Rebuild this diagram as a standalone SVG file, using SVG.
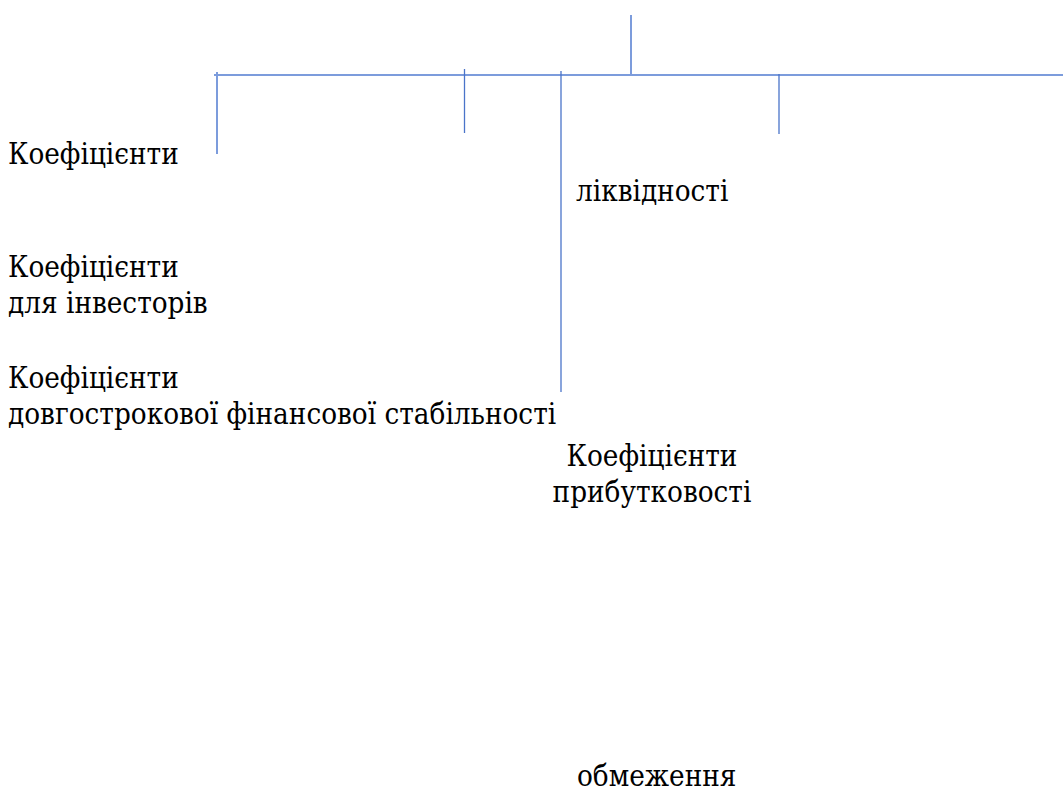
<svg xmlns="http://www.w3.org/2000/svg" width="1063" height="797" viewBox="0 0 1063 797">
<style>
.thick{stroke:#7C9CDC;stroke-width:2;fill:none}
.thin{stroke:#4A74C9;stroke-width:1.3;fill:none}
text{font-family:'DejaVu Serif Condensed','DejaVu Serif',serif;font-stretch:condensed;font-size:29.3px;fill:#000}
</style>
<rect width="1063" height="797" fill="#fff"/>
<g id="connectors">
<line class="thick" x1="631" y1="15" x2="631" y2="75"/>
<line class="thick" x1="214" y1="75" x2="1063" y2="75"/>
<line class="thick" x1="217" y1="72" x2="217" y2="154"/>
<line class="thin" x1="464.5" y1="69" x2="464.5" y2="133"/>
<line class="thin" x1="561" y1="71" x2="561" y2="392"/>
<line class="thin" x1="779" y1="74" x2="779" y2="134"/>
</g>
<g id="node-1"><text x="8" y="164">Коефіцієнти</text></g>
<g id="node-2"><text x="576" y="201">ліквідності</text></g>
<g id="node-3"><text x="8" y="277">Коефіцієнти</text><text x="8" y="313">для інвесторів</text></g>
<g id="node-4"><text x="8" y="388">Коефіцієнти</text><text x="8" y="424">довгострокової фінансової стабільності</text></g>
<g id="node-5"><text x="652" y="466" text-anchor="middle">Коефіцієнти</text><text x="652" y="502" text-anchor="middle">прибутковості</text></g>
<g id="node-6"><text x="577" y="786">обмеження</text></g>
</svg>
